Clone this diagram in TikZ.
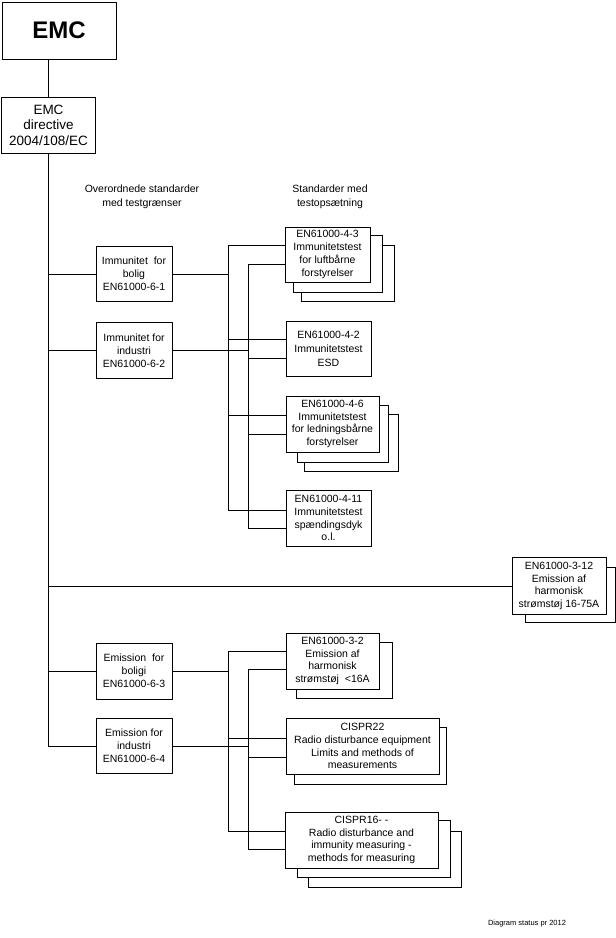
\documentclass[tikz,border=0pt]{standalone}
\usepackage{fontspec}
\setmainfont{Liberation Sans}
\begin{document}
\begin{tikzpicture}[x=1pt,y=-1pt,
  box/.style={draw, line width=1pt, fill=white, align=center, inner sep=1pt,
    font=\fontsize{10.5}{12.8}\selectfont},
  sh/.style={draw, line width=1pt, fill=white},
  conn/.style={line width=1pt},
  hdr/.style={align=center, inner sep=0pt, font=\fontsize{10.5}{14}\selectfont}]
\useasboundingbox (0,0) rectangle (616,938);

% top
\node[box, minimum width=114, minimum height=57, font=\fontsize{24}{28}\selectfont\bfseries] (emc) at (59,30.5) {EMC};
\node[box, minimum width=94, minimum height=56, font=\fontsize{13.5}{15.5}\selectfont] (dir) at (48.5,125) {EMC\\directive\\2004/108/EC};

% headers
\node[hdr] (h1) at (142,197) {Overordnede standarder\\med testgrænser};
\node[hdr] (h2) at (330,197) {Standarder med\\testopsætning};

% left column
\node[box, minimum width=76, minimum height=55] (imb) at (134,274) {Immunitet\ \ for\\bolig\\EN61000-6-1};
\node[box, minimum width=76, minimum height=56] (imi) at (134,350.5) {Immunitet for\\industri\\EN61000-6-2};
\node[box, minimum width=76, minimum height=56] (emb) at (134,671) {Emission\ \ for\\boligi\\EN61000-6-3};
\node[box, minimum width=76, minimum height=55] (emi) at (134,746) {Emission for\\industri\\EN61000-6-4};

% right column, immunity
\draw[sh] (301,245) rectangle (394,301);
\draw[sh] (293,235) rectangle (382,292);
\node[box, minimum width=85, minimum height=55] (e43) at (327.5,254.5) {EN61000-4-3\\Immunitetstest\\for luftbårne\\forstyrelser};
\node[box, minimum width=85, minimum height=55, font=\fontsize{10.5}{14}\selectfont] (e42) at (328.5,348.5) {EN61000-4-2\\Immunitetstest\\ESD};
\draw[sh] (304,414) rectangle (398,471);
\draw[sh] (297,405) rectangle (388,462);
\node[box, minimum width=93, minimum height=56] (e46) at (332.5,424) {EN61000-4-6\\Immunitetstest\\for ledningsbårne\\forstyrelser};
\node[box, minimum width=85, minimum height=56] (e411) at (328.5,518) {EN61000-4-11\\Immunitetstest\\spændingsdyk\\o.l.};

% EN61000-3-12
\draw[sh] (525,567) rectangle (615,622);
\node[box, minimum width=94, minimum height=57] (e312) at (559,586) {EN61000-3-12\\Emission af\\harmonisk\\strømstøj 16-75A};

% right column, emission
\draw[sh] (296,642) rectangle (392,698);
\node[box, minimum width=93, minimum height=56] (e32) at (332.5,661) {EN61000-3-2\\Emission af\\harmonisk\\strømstøj\ \ <16A};
\draw[sh] (294,727) rectangle (446,784);
\node[box, minimum width=153, minimum height=56] (c22) at (362.5,746) {CISPR22\\Radio disturbance equipment\\Limits and methods of\\measurements};
\draw[sh] (308,831) rectangle (461,887);
\draw[sh] (297,820) rectangle (450,877);
\node[box, minimum width=153, minimum height=56] (c16) at (361.5,840) {CISPR16- -\\Radio disturbance and\\immunity measuring -\\methods for measuring};

% footer
\node[inner sep=0pt, font=\fontsize{7.5}{9}\selectfont] (foot) at (527,924) {Diagram status pr 2012};

% bus coordinates
\coordinate (ia1) at (228,245);
\coordinate (ib1) at (248,264);
\coordinate (ia2) at (228,339);
\coordinate (ib2) at (248,358);
\coordinate (ia3) at (228,415);
\coordinate (ib3) at (248,434);
\coordinate (ia4) at (228,510);
\coordinate (ib4) at (248,528);
\coordinate (ea1) at (228,651);
\coordinate (eb1) at (248,669);
\coordinate (ea2) at (228,738);
\coordinate (eb2) at (248,757);
\coordinate (ea3) at (228,831);
\coordinate (eb3) at (248,849);

% trunk
\draw[conn] (dir.north |- emc.south) -- (dir.north);
\draw[conn] (dir.south) -- (dir.south |- emi.west) -- (emi.west);
\draw[conn] (dir.south |- imb.west) -- (imb.west);
\draw[conn] (dir.south |- imi.west) -- (imi.west);
\draw[conn] (dir.south |- e312.west) -- (e312.west);
\draw[conn] (dir.south |- emb.west) -- (emb.west);

% immunity buses
\draw[conn] (imb.east) -- (imb.east -| ia1);
\draw[conn] (imi.east) -- (imi.east -| ib1);
\draw[conn] (ia1) -- (ia4);
\draw[conn] (ib1) -- (ib4);
\draw[conn] (ia1) -- (ia1 -| e43.west);
\draw[conn] (ib1) -- (ib1 -| e43.west);
\draw[conn] (ia2) -- (ia2 -| e42.west);
\draw[conn] (ib2) -- (ib2 -| e42.west);
\draw[conn] (ia3) -- (ia3 -| e46.west);
\draw[conn] (ib3) -- (ib3 -| e46.west);
\draw[conn] (ia4) -- (ia4 -| e411.west);
\draw[conn] (ib4) -- (ib4 -| e411.west);

% emission buses
\draw[conn] (emb.east) -- (emb.east -| ea1);
\draw[conn] (emi.east) -- (emi.east -| eb1);
\draw[conn] (ea1) -- (ea3);
\draw[conn] (eb1) -- (eb3);
\draw[conn] (ea1) -- (ea1 -| e32.west);
\draw[conn] (eb1) -- (eb1 -| e32.west);
\draw[conn] (ea2) -- (ea2 -| c22.west);
\draw[conn] (eb2) -- (eb2 -| c22.west);
\draw[conn] (ea3) -- (ea3 -| c16.west);
\draw[conn] (eb3) -- (eb3 -| c16.west);
\end{tikzpicture}
\end{document}
